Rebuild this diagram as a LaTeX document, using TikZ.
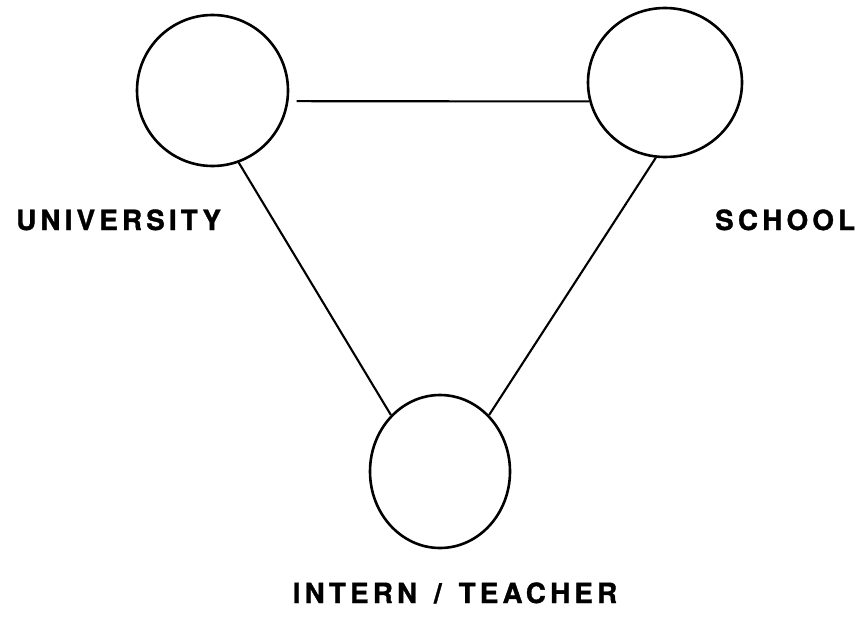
\documentclass[tikz,border=0pt]{standalone}
\usepackage{fontspec}
\usetikzlibrary{shapes.geometric}
\newfontfamily\labelfont[LetterSpace=15,FakeBold=1.2]{TeX Gyre Heros}
\tikzset{
  party/.style={draw, line width=2.6pt, ellipse, inner sep=0pt},
  link/.style={line width=2.1pt},
  caption/.style={inner sep=0pt, font=\labelfont\bfseries\fontsize{27.8}{30}\selectfont}
}
\begin{document}
\begin{tikzpicture}[x=1pt, y=-1pt]
  \useasboundingbox (0,0) rectangle (858,616);
  % the three parties
  \node[party, minimum width=151pt, minimum height=151pt] (uni) at (212.5,90.5) {};
  \node[party, minimum width=154pt, minimum height=149pt] (school) at (665,82.5) {};
  \node[party, minimum width=140pt, minimum height=153pt] (intern) at (440,471.5) {};
  % labels
  \node[caption, anchor=base west] (unilabel) at (16,230) {UNIVERSITY};
  \node[caption, anchor=base west] (schoollabel) at (715,230) {SCHOOL};
  \node[caption, anchor=base] (internlabel) at (455,603) {INTERN\hspace{5pt} /\hspace{5pt} TEACHER};
  % connections
  \draw[link] ([xshift=8pt]uni.-8.8) -- (school.194.6);
  \draw[link] (uni.-70.6) -- (intern.131);
  \draw[link] (school.-97.6) -- (intern.49.5);
\end{tikzpicture}
\end{document}
